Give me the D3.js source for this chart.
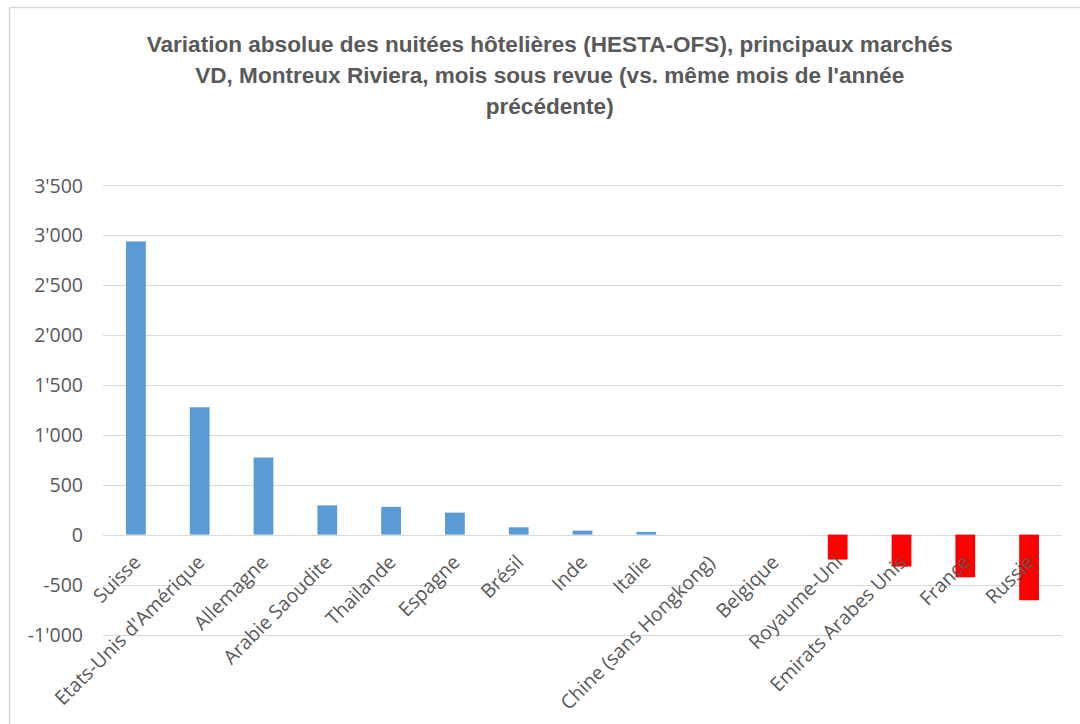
<!DOCTYPE html>
<html>
<head>
<meta charset="utf-8">
<script src="https://cdn.jsdelivr.net/npm/d3@7"></script>
<style>
  html, body { margin: 0; padding: 0; background: #ffffff; }
  svg { display: block; }
</style>
</head>
<body>
<svg id="chart" width="1080" height="724"></svg>
<script>
// ---- data ----
const categories = ["Suisse", "Etats-Unis d'Amérique", "Allemagne", "Arabie Saoudite", "Thailande", "Espagne", "Brésil", "Inde", "Italie", "Chine (sans Hongkong)", "Belgique", "Royaume-Uni", "Emirats Arabes Unis", "France", "Russie"];
const values = [2935, 1275, 772, 293, 278, 220, 73, 40, 27, 0, 0, -250, -320, -427, -657];
const yTicks = [-1000, -500, 0, 500, 1000, 1500, 2000, 2500, 3000, 3500];
const titleLines = ["Variation absolue des nuitées hôtelières (HESTA-OFS), principaux marchés", "VD, Montreux Riviera,  mois sous revue (vs. même mois de l'année", "précédente)"];

// ---- setup ----
const svg = d3.select("#chart");
const W = 1080, H = 724;
const textColor = "#595959";
const gridColor = "#D9D9D9";

svg.append("rect").attr("x", 0).attr("y", 0).attr("width", W).attr("height", H).attr("fill", "#fff");
svg.append("rect").attr("x", 9.5).attr("y", 7.5).attr("width", 1200).attr("height", 900)
  .attr("fill", "none").attr("stroke", gridColor).attr("stroke-width", 1.5);

const x = d3.scaleBand().domain(categories).range([104, 1061]).paddingInner(0.69).paddingOuter(0.345);
const y = d3.scaleLinear().domain([-1000, 3500]).range([634.5, 185]);

// gridlines
const grid = svg.append("g");
grid.selectAll("line").data(yTicks).join("line")
  .attr("x1", 103).attr("x2", 1062)
  .attr("y1", d => Math.round(y(d)) + 0.5).attr("y2", d => Math.round(y(d)) + 0.5)
  .attr("stroke", gridColor).attr("stroke-width", 1);

// y axis labels
const fmt = d => d3.format(",")(d).replace(/,/g, "'").replace("−", "-");
const yAxis = d3.axisLeft(y).tickValues(yTicks).tickFormat(fmt).tickSize(0).tickPadding(0);
const gy = svg.append("g").attr("transform", "translate(83,0)").call(yAxis);
gy.select(".domain").remove();
gy.selectAll("text").attr("fill", textColor).attr("font-family", "'Open Sans', 'Segoe UI', sans-serif")
  .attr("font-size", "19.5px").attr("dy", "0.36em");

// bars
svg.append("g").selectAll("rect").data(categories).join("rect")
  .attr("x", (d) => x(d))
  .attr("width", x.bandwidth())
  .attr("y", (d, i) => values[i] >= 0 ? y(values[i]) : y(0))
  .attr("height", (d, i) => Math.abs(y(values[i]) - y(0)))
  .attr("fill", (d, i) => values[i] >= 0 ? "#5B9BD5" : "#FF0000");

// x axis labels (rotated)
const xAxis = d3.axisBottom(x).tickSize(0).tickPadding(0);
const gx = svg.append("g").attr("transform", `translate(0,${y(0)})`).call(xAxis);
gx.select(".domain").remove();
gx.selectAll("text")
  .attr("fill", textColor)
  .attr("font-family", "'Open Sans', 'Segoe UI', sans-serif")
  .attr("font-size", "19.5px")
  .attr("text-anchor", "end")
  .attr("dy", null)
  .attr("y", null)
  .attr("transform", "translate(6,29) rotate(-45)");

// title
const title = svg.append("g");
const tl = title.selectAll("text").data(titleLines).join("text")
  .attr("x", 549.7)
  .attr("y", (d, i) => 51.5 + i * 31)
  .attr("text-anchor", "middle")
  .attr("fill", textColor)
  .attr("font-family", "'Liberation Sans Narrow', 'Liberation Sans', Arial, sans-serif")
  .attr("font-weight", "bold")
  .attr("font-size", "22px")
  .text(d => d);
const nat0 = tl.nodes()[0].getComputedTextLength();
const ratio = 806 / nat0;
tl.each(function() {
  const n = this.getComputedTextLength();
  d3.select(this).attr("textLength", n * ratio).attr("lengthAdjust", "spacingAndGlyphs");
});
</script>
</body>
</html>
